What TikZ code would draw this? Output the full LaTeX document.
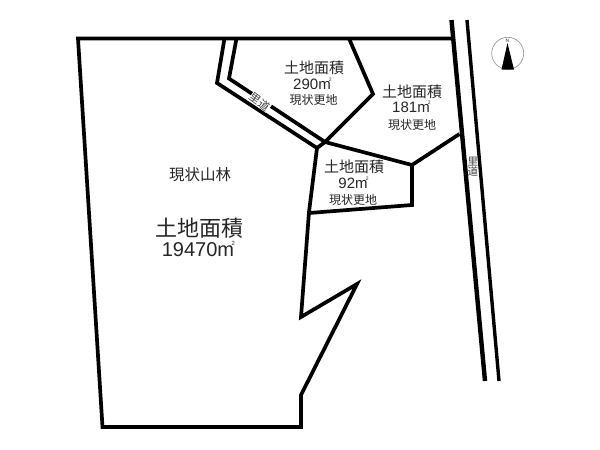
\documentclass[tikz,border=0pt]{standalone}
\usepackage{fontspec}
\setmainfont{Liberation Sans}
\newfontfamily\cjk{Noto Sans CJK JP}
\newcommand{\sqm}[1]{m\makebox[0pt][l]{\kern-0.12em\raisebox{0.55em}{\fontsize{#1}{#1}\selectfont 2}}}
\newcommand{\fs}[1]{\fontsize{#1}{#1}\selectfont}
\tikzset{
  boundary/.style={line width=3.7pt,line join=miter,black},
  roadedge/.style={line width=4.4pt,black},
  thinroad/.style={line width=3.4pt,black},
  lbl/.style={inner sep=0pt,text=black!85},
  roadlbl/.style={inner sep=0.3pt,fill=white,text=black!75},
  sideroad/.style={inner sep=0pt,text=black!75},
}
\begin{document}
\begin{tikzpicture}[x=1pt,y=-1pt]
\useasboundingbox (0,0) rectangle (600,450);
\fill[white] (0,0) rectangle (600,450);
% key points
\coordinate (tl) at (78,38.5);
\coordinate (tr) at (452,38.5);
\coordinate (bl) at (102.5,427);
\coordinate (br) at (301,427);
\coordinate (b1) at (301,395);
\coordinate (sp) at (357,284);
\coordinate (nt) at (301,317);
\coordinate (w1) at (309,212);
\coordinate (w2) at (317,148);
\coordinate (ra1) at (224.5,38.5);
\coordinate (ra2) at (217,83);
\coordinate (rb1) at (236.5,38.5);
\coordinate (rb2) at (229,78.5);
\coordinate (j) at (325,142);
\coordinate (p1) at (373,94);
\coordinate (p2) at (349,38.5);
\coordinate (q1) at (412,165);
\coordinate (q2) at (459.5,134);
\coordinate (q3) at (412,205);
\coordinate (q4) at (309,213);
\coordinate (rl1) at (451.5,20);
\coordinate (rl2) at (485,381);
\coordinate (rr1) at (467,20);
\coordinate (rr2) at (499,381);
% outlines
\draw[boundary] (tr) -- (tl) -- (bl) -- (br) -- (b1) -- (sp) -- (nt) -- (w1) -- (w2);
\draw[boundary] (ra1) -- (ra2) -- (w2);
\draw[boundary] (rb1) -- (rb2) -- (j);
\draw[boundary] (w2) -- (j) -- (p1) -- (p2);
\draw[boundary] (j) -- (q1) -- (q2);
\draw[boundary] (q1) -- (q3) -- (q4);
\draw[roadedge] (rl1) -- (rl2);
\draw[thinroad] (rr1) -- (rr2);
% labels
\node[lbl] (a1) at (314,68) {\cjk\fs{15}土地面積};
\node[lbl] (a2) at (312,84) {\fs{15}290\sqm{5}};
\node[lbl] (a3) at (313.5,100) {\cjk\fs{12}現状更地};
\node[lbl] (b1t) at (412,92) {\cjk\fs{15}土地面積};
\node[lbl] (b2t) at (411,107) {\fs{15}181\sqm{5}};
\node[lbl] (b3t) at (412,124.5) {\cjk\fs{12}現状更地};
\node[lbl] (c1t) at (354,167) {\cjk\fs{15}土地面積};
\node[lbl] (c2t) at (353,182.5) {\fs{15}92\sqm{5}};
\node[lbl] (c3t) at (353,200) {\cjk\fs{12}現状更地};
\node[lbl] (d0t) at (200,174.5) {\cjk\fs{15.5}現状山林};
\node[lbl] (d1t) at (199,228) {\cjk\fs{22}土地面積};
\node[lbl] (d2t) at (198,249) {\fs{20}19470\sqm{6}};
\node[roadlbl,rotate=-36] (r1t) at (260,102) {\cjk\fs{11}里道};
\node[sideroad,align=center] (r2t) at (472.8,166.5) {\cjk\fs{10.5}里\\[-1.5pt]\cjk\fs{10.5}道};
% north mark
\node[circle,draw=black!45,line width=0.6pt,minimum size=32pt,inner sep=0pt] (nc) at (507.7,53.3) {};
\coordinate (na) at (507.5,43);
\coordinate (nb) at (501.5,69.5);
\coordinate (nd) at (514,69.5);
\fill[black] (na) -- (nb) -- (nd) -- cycle;
\node[inner sep=0pt,text=black!80] (nn) at (507.5,41) {\fs{5}N};
\end{tikzpicture}
\end{document}
